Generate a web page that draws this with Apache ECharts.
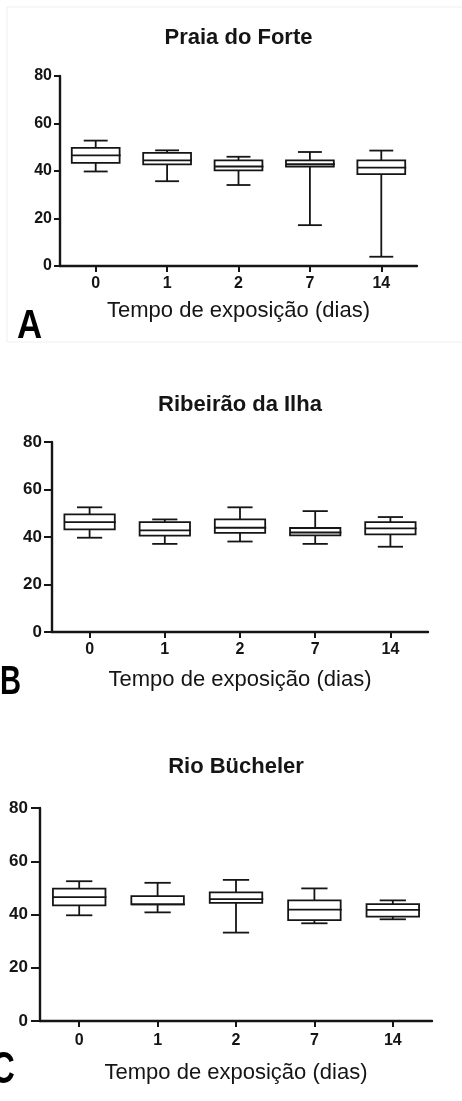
<!DOCTYPE html>
<html>
<head>
<meta charset="utf-8">
<script src="https://cdn.jsdelivr.net/npm/echarts@6/dist/echarts.min.js"></script>
<style>
html,body{margin:0;padding:0;background:#fff;}
#chart{width:462px;height:1101px;}
</style>
</head>
<body>
<div id="chart"></div>
<script>
// ---- data ----
const categories = ['0', '1', '2', '7', '14'];
const yTicks = [0, 20, 40, 60, 80];
const panelTitles = ['Praia do Forte', 'Ribeirão da Ilha', 'Rio Bücheler'];
const panelLetters = ['A', 'B', 'C'];
const xAxisTitle = 'Tempo de exposição (dias)';
// each row: [min, q1, median, q3, max]
const praiaDoForte = [
  [39.8, 43.4, 46.6, 49.7, 52.8],
  [35.7, 42.8, 44.5, 47.6, 48.7],
  [34.1, 40.3, 41.9, 44.5, 46.0],
  [17.2, 41.9, 42.9, 44.5, 48.0],
  [3.9, 38.7, 41.4, 44.5, 48.6]
];
const ribeiraoDaIlha = [
  [39.7, 43.2, 46.3, 49.5, 52.5],
  [37.1, 40.6, 42.8, 46.3, 47.4],
  [38.1, 41.7, 43.9, 47.4, 52.5],
  [37.1, 40.7, 41.9, 43.8, 50.9],
  [35.9, 41.1, 43.6, 46.3, 48.4]
];
const rioBucheler = [
  [39.7, 43.4, 46.5, 49.7, 52.5],
  [40.8, 43.8, 43.8, 46.9, 51.9],
  [33.2, 44.4, 45.8, 48.3, 53.0],
  [36.7, 37.9, 41.8, 45.3, 49.8],
  [38.2, 39.2, 41.7, 43.9, 45.3]
];
const panelData = [praiaDoForte, ribeiraoDaIlha, rioBucheler];

// ---- layout (styles only) ----
const grids = [
  {left: 60, top: 76, width: 357, height: 190},
  {left: 52, top: 442, width: 376, height: 190},
  {left: 40, top: 808, width: 392, height: 213}
];
const titleY = [38, 405, 766.5];
const nameGap = [34, 37, 41];
const catMargin = [10, 10, 12];
const yTickLen = [6, 8, 9];
const yLabelMargin = [8, 10, 12];
const yFont = [16, 17, 17];
const ink = '#151515';
const fontFam = '"Liberation Sans", Arial, sans-serif';

function renderBox(params, api) {
  const idx = api.value(0);
  const x = api.coord([idx, 0])[0];
  const band = api.size([1, 0])[0];
  const bw = band * 0.67;
  const cw = bw * 0.5;
  const yMin = api.coord([idx, api.value(1)])[1];
  const yQ1 = api.coord([idx, api.value(2)])[1];
  const yMed = api.coord([idx, api.value(3)])[1];
  const yQ3 = api.coord([idx, api.value(4)])[1];
  const yMax = api.coord([idx, api.value(5)])[1];
  const st = {stroke: ink, fill: null, lineWidth: 1.8};
  return {
    type: 'group',
    children: [
      {type: 'line', shape: {x1: x, y1: yQ3, x2: x, y2: yMax}, style: st},
      {type: 'line', shape: {x1: x - cw / 2, y1: yMax, x2: x + cw / 2, y2: yMax}, style: st},
      {type: 'line', shape: {x1: x, y1: yQ1, x2: x, y2: yMin}, style: st},
      {type: 'line', shape: {x1: x - cw / 2, y1: yMin, x2: x + cw / 2, y2: yMin}, style: st},
      {type: 'rect', shape: {x: x - bw / 2, y: yQ3, width: bw, height: yQ1 - yQ3}, style: {stroke: ink, fill: '#fff', lineWidth: 1.8}},
      {type: 'line', shape: {x1: x - bw / 2, y1: yMed, x2: x + bw / 2 + 1, y2: yMed}, style: st}
    ]
  };
}

const option = {
  backgroundColor: '#fff',
  animation: false,
  grid: grids,
  xAxis: grids.map((g, i) => ({
    type: 'category',
    gridIndex: i,
    data: categories,
    boundaryGap: true,
    name: xAxisTitle,
    nameLocation: 'middle',
    nameGap: nameGap[i],
    nameTextStyle: {fontFamily: fontFam, fontSize: 22, color: ink},
    axisLine: {lineStyle: {color: ink, width: 2.4}},
    axisTick: {show: true, alignWithLabel: true, length: 6, lineStyle: {color: ink, width: 2}},
    axisLabel: {fontFamily: fontFam, fontSize: 16, fontWeight: 'bold', color: ink, margin: catMargin[i]},
    splitLine: {show: false}
  })),
  yAxis: grids.map((g, i) => ({
    type: 'value',
    gridIndex: i,
    min: yTicks[0],
    max: yTicks[yTicks.length - 1],
    interval: yTicks[1] - yTicks[0],
    axisLine: {show: true, lineStyle: {color: ink, width: 2.4}},
    axisTick: {show: true, length: yTickLen[i], lineStyle: {color: ink, width: 2}},
    axisLabel: {fontFamily: fontFam, fontSize: yFont[i], fontWeight: 'bold', color: ink, margin: yLabelMargin[i]},
    splitLine: {show: false}
  })),
  series: panelData.map((rows, i) => ({
    type: 'custom',
    xAxisIndex: i,
    yAxisIndex: i,
    renderItem: renderBox,
    encode: {x: 0, y: [1, 2, 3, 4, 5]},
    data: rows.map((r, k) => [k].concat(r))
  })),
  graphic: [
    {type: 'rect', shape: {x: 7, y: 7, width: 460, height: 335}, style: {fill: null, stroke: '#efefef', lineWidth: 1}, silent: true},
    ...panelTitles.map((t, i) => ({
      type: 'text',
      x: grids[i].left + grids[i].width / 2,
      y: titleY[i],
      style: {text: t, font: 'bold 22px ' + fontFam, fill: ink, textAlign: 'center', textVerticalAlign: 'middle'}
    })),
    {type: 'text', x: 17, y: 327, scaleX: 0.87, style: {text: panelLetters[0], font: 'bold 40px ' + fontFam, fill: '#000', textAlign: 'left', textVerticalAlign: 'middle'}},
    {type: 'text', x: 0, y: 683, scaleX: 0.73, style: {text: panelLetters[1], font: 'bold 40px ' + fontFam, fill: '#000', textAlign: 'left', textVerticalAlign: 'middle'}},
    {type: 'text', x: -9, y: 1071, scaleX: 0.75, style: {text: panelLetters[2], font: 'bold 44px ' + fontFam, fill: '#000', textAlign: 'left', textVerticalAlign: 'middle'}}
  ]
};

const chart = echarts.init(document.getElementById('chart'), null, {renderer: 'canvas'});
chart.setOption(option);
</script>
</body>
</html>
